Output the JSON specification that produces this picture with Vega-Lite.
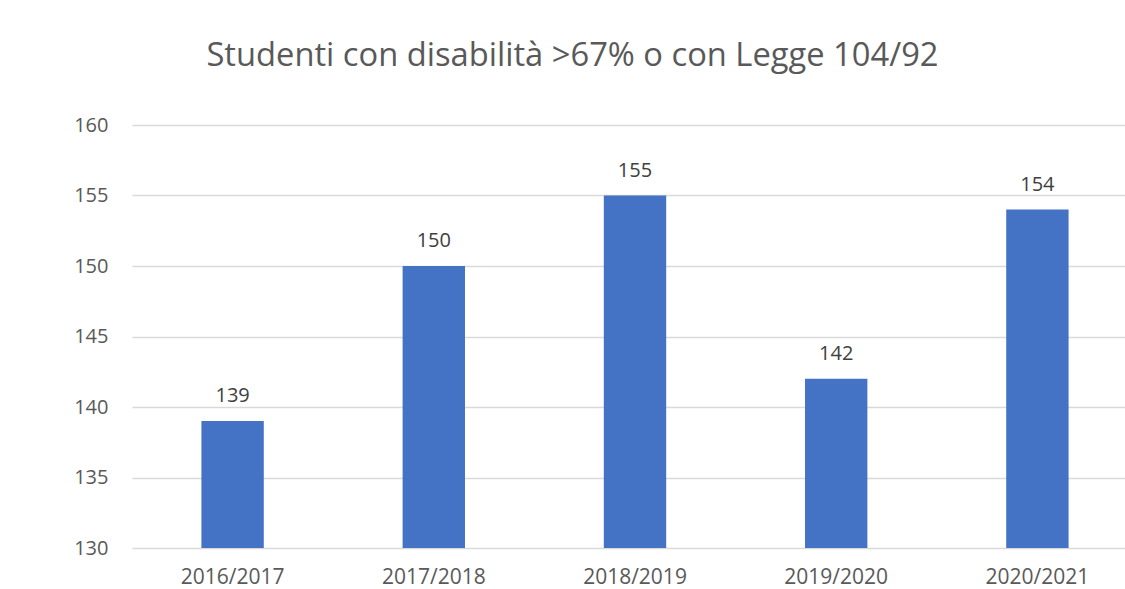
{
  "$schema": "https://vega.github.io/schema/vega-lite/v6.json",
  "width": 993,
  "height": 423,
  "autosize": {"type": "none"},
  "padding": {"left": 132, "top": 125, "right": 0, "bottom": 41},
  "background": "white",
  "title": {
    "text": "Studenti con disabilità >67% o con Legge 104/92",
    "font": "Open Sans",
    "fontSize": 32.7,
    "fontWeight": "normal",
    "color": "#595959",
    "anchor": "middle",
    "frame": "group",
    "dx": -56,
    "offset": 42
  },
  "data": {
    "values": [
      {"anno": "2016/2017", "studenti": 139},
      {"anno": "2017/2018", "studenti": 150},
      {"anno": "2018/2019", "studenti": 155},
      {"anno": "2019/2020", "studenti": 142},
      {"anno": "2020/2021", "studenti": 154}
    ]
  },
  "encoding": {
    "x": {
      "field": "anno",
      "type": "nominal",
      "sort": null,
      "scale": {"range": [0, 1006], "paddingInner": 0.69, "paddingOuter": 0.345},
      "axis": {
        "title": null,
        "labelAngle": 0,
        "labelFont": "Open Sans",
        "labelFontSize": 21,
        "labelColor": "#595959",
        "labelPadding": 18,
        "domain": false,
        "ticks": false,
        "grid": false
      }
    },
    "y": {
      "field": "studenti",
      "type": "quantitative",
      "scale": {"domain": [130, 160], "zero": false, "nice": false},
      "axis": {
        "title": null,
        "values": [130, 135, 140, 145, 150, 155, 160],
        "labelFont": "Open Sans",
        "labelFontSize": 20,
        "labelColor": "#595959",
        "labelPadding": 24,
        "domain": false,
        "ticks": false,
        "grid": true,
        "gridColor": "#d9d9d9",
        "gridWidth": 1.3
      }
    }
  },
  "layer": [
    {
      "mark": {"type": "bar", "color": "#4472C4"},
      "encoding": {"y2": {"datum": 130}}
    },
    {
      "mark": {
        "type": "text",
        "baseline": "alphabetic",
        "dy": -19,
        "font": "Open Sans",
        "fontSize": 20,
        "color": "#404040"
      },
      "encoding": {"text": {"field": "studenti", "type": "quantitative"}}
    }
  ],
  "config": {
    "view": {"stroke": null}
  }
}
